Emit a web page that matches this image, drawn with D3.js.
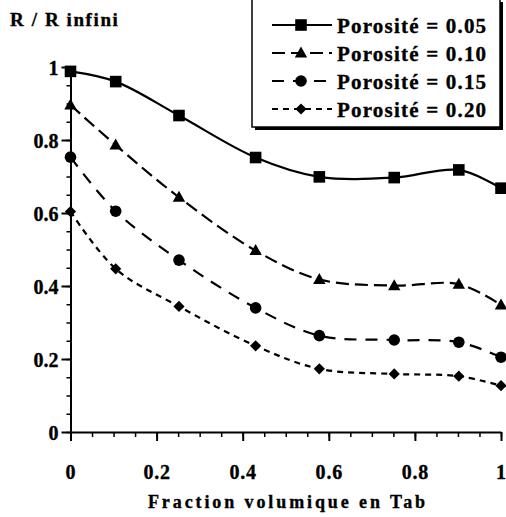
<!DOCTYPE html>
<html>
<head>
<meta charset="utf-8">
<script src="https://cdn.jsdelivr.net/npm/d3@7"></script>
<style>
  html, body { margin: 0; padding: 0; background: #fff; }
  svg { display: block; }
</style>
</head>
<body>
<svg id="chart" width="506" height="517" font-family="Liberation Serif" font-weight="bold"></svg>
<script>
// ---- data ----
const fractions = [0, 0.105, 0.252, 0.43, 0.578, 0.752, 0.902, 1];
const seriesNames = ["Porosité = 0.05", "Porosité = 0.10", "Porosité = 0.15", "Porosité = 0.20"];
const por005 = [0.988, 0.960, 0.867, 0.752, 0.699, 0.697, 0.718, 0.668];
const por010 = [0.896, 0.786, 0.643, 0.497, 0.418, 0.401, 0.405, 0.348];
const por015 = [0.753, 0.605, 0.471, 0.340, 0.264, 0.252, 0.246, 0.205];
const por020 = [0.604, 0.447, 0.344, 0.236, 0.173, 0.159, 0.153, 0.127];
const xTickLabels = [0, 0.2, 0.4, 0.6, 0.8, 1];
const yTickLabels = [0, 0.2, 0.4, 0.6, 0.8, 1];
const yTitle = "R / R infini";
const xTitle = "Fraction volumique en Tab";

const allSeries = [por005, por010, por015, por020];
const markers = ["square", "triangle", "circle", "diamond"];
const dashes = [null, "13,6", "12,9", "6,5"];
const FONT = "Liberation Serif";

const svg = d3.select("#chart");
const x = d3.scaleLinear().domain([0, 1]).range([70.5, 501]);
const y = d3.scaleLinear().domain([0, 1]).range([432, 67]);
const fmt = d3.format("~g");

function heavy(sel) {
  return sel.attr("font-family", FONT).attr("font-weight", "bold")
    .attr("stroke", "#000").attr("stroke-width", 0.35).attr("fill", "#000");
}

// minor ticks
const minorVals = d3.range(0, 1.0001, 0.05);
svg.append("g").attr("transform", "translate(0,432)")
  .call(d3.axisBottom(x).tickValues(minorVals).tickSize(5).tickSizeOuter(0).tickFormat(""))
  .call(g => g.select(".domain").remove())
  .call(g => g.selectAll("line").attr("stroke-width", 1.5));
svg.append("g").attr("transform", "translate(70.5,0)")
  .call(d3.axisLeft(y).tickValues(minorVals).tickSize(4).tickSizeOuter(0).tickFormat(""))
  .call(g => g.select(".domain").remove())
  .call(g => g.selectAll("line").attr("stroke-width", 1.5));

// major axes
const xAxis = svg.append("g").attr("transform", "translate(0,432)")
  .call(d3.axisBottom(x).tickValues(xTickLabels).tickSize(9).tickSizeOuter(0).tickPadding(24).tickFormat(fmt));
xAxis.attr("font-family", FONT).attr("font-weight", "bold").attr("font-size", 20);
xAxis.select(".domain").attr("stroke-width", 2);
xAxis.selectAll("line").attr("stroke-width", 2);
heavy(xAxis.selectAll("text")).attr("font-size", 20).attr("letter-spacing", 0.8);

const yAxis = svg.append("g").attr("transform", "translate(70.5,0)")
  .call(d3.axisLeft(y).tickValues(yTickLabels).tickSize(9).tickSizeOuter(0).tickPadding(3).tickFormat(fmt));
yAxis.attr("font-family", FONT).attr("font-weight", "bold").attr("font-size", 20);
yAxis.select(".domain").attr("stroke-width", 2);
yAxis.selectAll("line").attr("stroke-width", 2);
heavy(yAxis.selectAll("text")).attr("font-size", 20).attr("dy", "0.36em");

// titles
heavy(svg.append("text")).attr("x", 10).attr("y", 26).attr("font-size", 19)
  .attr("letter-spacing", 1.6).text(yTitle);
heavy(svg.append("text")).attr("x", 288).attr("y", 508).attr("text-anchor", "middle")
  .attr("font-size", 18).attr("letter-spacing", 2.9).text(xTitle);

// marker paths
function markerPath(type, cx, cy) {
  if (type === "square") { const s = 5.8; return `M${cx-s},${cy-s}h${2*s}v${2*s}h${-2*s}Z`; }
  if (type === "triangle") { const h = 5.5, w = 6.2; return `M${cx},${cy-h-1}L${cx+w},${cy+h-1}L${cx-w},${cy+h-1}Z`; }
  if (type === "diamond") { const s = 5.6; return `M${cx},${cy-s}L${cx+s},${cy}L${cx},${cy+s}L${cx-s},${cy}Z`; }
  return null;
}
function drawMarker(g, type, cx, cy) {
  if (type === "circle") g.append("circle").attr("cx", cx).attr("cy", cy).attr("r", 5.8).attr("fill", "#000");
  else g.append("path").attr("d", markerPath(type, cx, cy)).attr("fill", "#000");
}

const line = d3.line().x(d => x(d[0])).y(d => y(d[1])).curve(d3.curveCatmullRom.alpha(0.5));

allSeries.forEach((vals, i) => {
  const pts = fractions.map((f, j) => [f, vals[j]]);
  const g = svg.append("g");
  g.append("path").attr("d", line(pts)).attr("fill", "none").attr("stroke", "#000")
    .attr("stroke-width", 2.2).attr("stroke-dasharray", dashes[i]);
  pts.forEach(p => drawMarker(g, markers[i], x(p[0]), y(p[1])));
});

// legend
const lg = svg.append("g");
lg.append("rect").attr("x", 255).attr("y", 2).attr("width", 248).attr("height", 128).attr("fill", "#000");
lg.append("rect").attr("x", 252).attr("y", -1).attr("width", 248).attr("height", 128)
  .attr("fill", "#fff").attr("stroke", "#000").attr("stroke-width", 1.5);
const rowY = [25, 53, 81, 109];
seriesNames.forEach((name, i) => {
  lg.append("line").attr("x1", 272).attr("x2", 332).attr("y1", rowY[i]).attr("y2", rowY[i])
    .attr("stroke", "#000").attr("stroke-width", 2).attr("stroke-dasharray", dashes[i]);
  drawMarker(lg, markers[i], 301, rowY[i]);
  heavy(lg.append("text")).attr("x", 337).attr("y", rowY[i] + 7.5).attr("font-size", 21)
    .attr("letter-spacing", 1.2).text(name);
});
</script>
</body>
</html>
